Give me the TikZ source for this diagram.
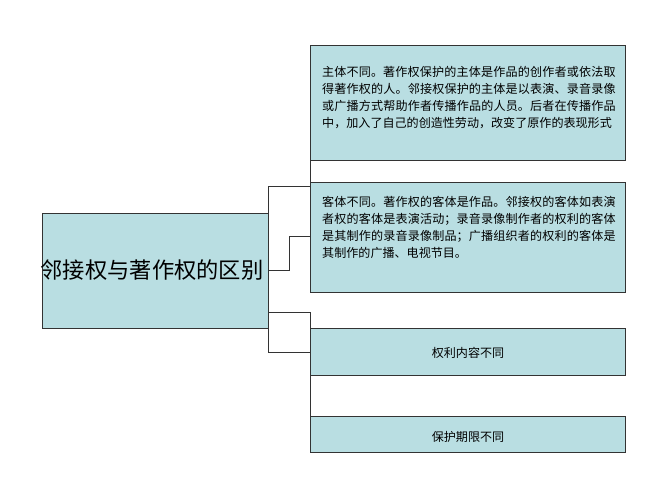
\documentclass[tikz,border=0pt]{standalone}
\usepackage{fontspec}
\setmainfont{Noto Sans CJK SC}
\XeTeXlinebreaklocale "zh"
\XeTeXlinebreakskip=0pt plus 1pt
\usetikzlibrary{positioning}
\definecolor{boxblue}{RGB}{185,222,226}
\begin{document}
\begin{tikzpicture}[x=0.03cm, y=-0.03cm]
  \tikzstyle{box} = [rectangle, draw=black!80, fill=boxblue, line width=0.8pt, anchor=north west, inner sep=0pt]
  \tikzstyle{small} = [font=\fontsize{10.3pt}{14.5pt}\selectfont, align=justify, text width=8.8cm, inner sep=0pt]
  \tikzstyle{link} = [draw=black!80, line width=0.8pt]

  \useasboundingbox (0,0) rectangle (667,500);

  \node [box, minimum width=226*0.03cm, minimum height=115*0.03cm] (main) at (42,213) {};
  \node [font=\fontsize{19pt}{21pt}\selectfont] (title) at (152,270) {邻接权与著作权的区别};

  \node [box, minimum width=315*0.03cm, minimum height=115*0.03cm] (subj) at (310,45) {};
  \node [small, anchor=north west] (subjtxt) at (322,66) {主体不同。著作权保护的主体是作品的创作者或依法取得著作权的人。邻接权保护的主体是以表演、录音录像或广播方式帮助作者传播作品的人员。后者在传播作品中，加入了自己的创造性劳动，改变了原作的表现形式};

  \node [box, minimum width=315*0.03cm, minimum height=110*0.03cm] (obj) at (310,182) {};
  \node [small, anchor=north west] (objtxt) at (322,196) {客体不同。著作权的客体是作品。邻接权的客体如表演者权的客体是表演活动；录音录像制作者的权利的客体是其制作的录音录像制品；广播组织者的权利的客体是其制作的广播、电视节目。};

  \node [box, minimum width=315*0.03cm, minimum height=47*0.03cm] (cont) at (310,328) {};
  \node [font=\fontsize{10.3pt}{12pt}\selectfont] (conttxt) at (468,353) {权利内容不同};

  \node [box, minimum width=315*0.03cm, minimum height=36*0.03cm] (term) at (310,416) {};
  \node [font=\fontsize{10.3pt}{12pt}\selectfont] (termtxt) at (468,437) {保护期限不同};

  % connectors
  \coordinate (t1) at (268,186);
  \coordinate (t2) at (268,352);
  \draw [link] (t1) -- (t2);
  \draw [link] (t1) -- (310,186);
  \draw [link] (268,270) -- (289,270) -- (289,236) -- (310,236);
  \draw [link] (268,312) -- (310,312) -- (cont.north west);
  \draw [link] (t2) -- (310,352);
  \draw [link] (subj.south west) -- (obj.north west);
  \draw [link] (cont.south west) -- (term.north west);
\end{tikzpicture}
\end{document}
